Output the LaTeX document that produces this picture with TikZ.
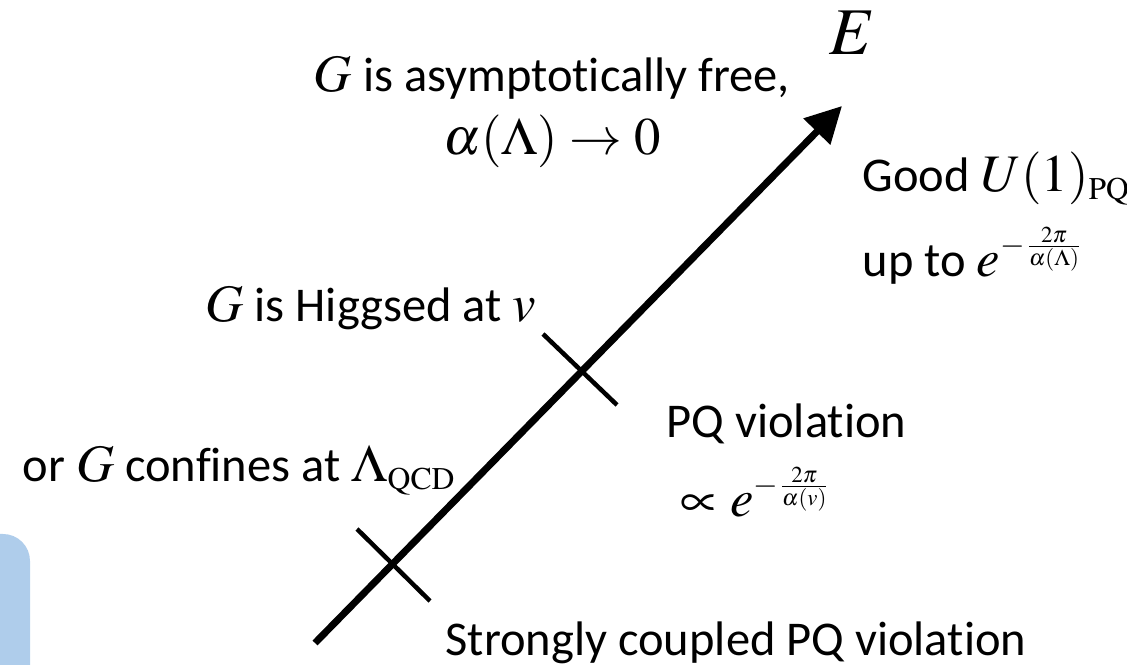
\documentclass[tikz,border=0pt]{standalone}
\usepackage{mathptmx}
\usepackage[no-math]{fontspec}
\setmainfont{Carlito}[Ligatures=NoCommon]
\usetikzlibrary{arrows.meta}
\DeclareMathSizes{15}{15}{9}{6.5}
\newcommand{\txtsize}{\fontsize{13.8}{17}\selectfont}
\newcommand{\mth}[1]{{\fontsize{15}{18}\selectfont$#1$}}
\definecolor{paleblue}{RGB}{175,205,235}

\begin{document}
\begin{tikzpicture}[every node/.style={inner sep=0pt,font=\txtsize},
  axis/.style={line width=0.07cm,-{Triangle[length=0.36cm,width=0.36cm]}},
  tick/.style={line width=0.045cm}]
  \useasboundingbox (0,0) rectangle (11.27,6.65);
  % piece of a box at the left edge
  \fill[paleblue,rounded corners=0.27cm] (-0.5,-0.5) rectangle (0.30,1.31);
  % energy axis
  \coordinate (lo) at (3.15,0.22);
  \coordinate (hi) at (8.42,5.59);
  \draw[axis] (lo)--(hi);
  \node (E) at (8.52,6.32) {\fontsize{19}{22}\selectfont$E$};
  % scale v
  \coordinate (v1) at (5.43,3.31);
  \coordinate (v2) at (6.17,2.60);
  \draw[tick] (v1)--(v2);
  % scale Lambda_QCD
  \coordinate (q1) at (3.57,1.36);
  \coordinate (q2) at (4.30,0.64);
  \draw[tick] (q1)--(q2);
  % labels
  \node[anchor=base] (free) at (5.52,5.73) {\mth{G} is asymptotically free,};
  \node[anchor=base] (alpha) at (5.52,5.10) {\mth{\alpha(\Lambda)\rightarrow 0}};
  \node[anchor=base west] (good) at (8.62,4.73) {Good \mth{U(1)_{\mathrm{PQ}}}};
  \node[anchor=base west] (upto) at (8.62,3.88) {up to \mth{e^{-\frac{2\pi}{\alpha(\Lambda)}}}};
  \node[anchor=base west] (higgs) at (2.05,3.43) {\mth{G} is Higgsed at \mth{v}};
  \node[anchor=base west] (viol) at (6.66,2.27) {PQ violation};
  \node[anchor=base west] (prop) at (6.80,1.48) {\mth{\propto e^{-\frac{2\pi}{\alpha(v)}}}};
  \node[anchor=base west] (conf) at (0.22,1.83) {or \mth{G} confines at \mth{\Lambda_{\mathrm{QCD}}}};
  \node[anchor=base west] (strong) at (4.45,0.09) {Strongly coupled PQ violation};
\end{tikzpicture}
\end{document}
